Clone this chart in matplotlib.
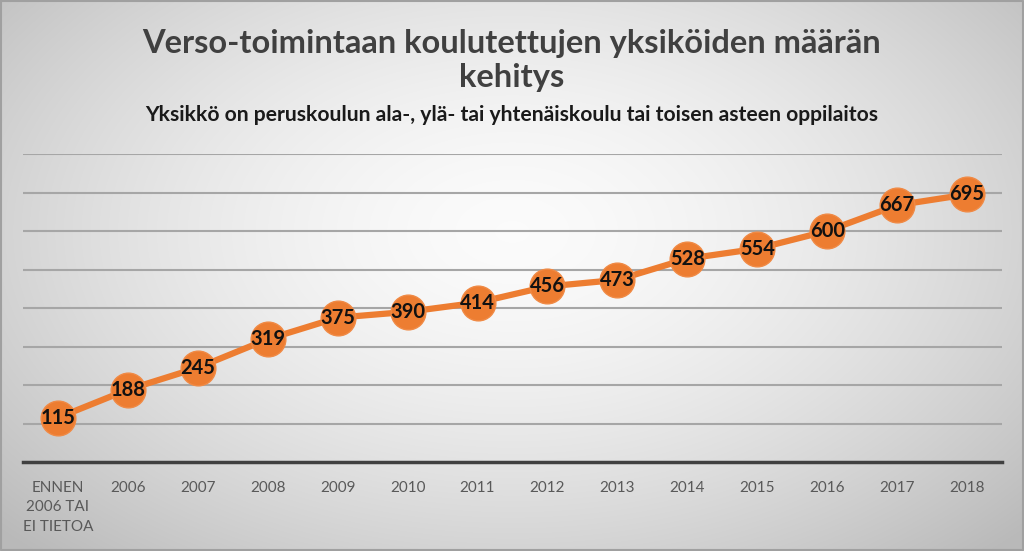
import numpy as np
import matplotlib
matplotlib.use("Agg")
import matplotlib.pyplot as plt

categories = ["ENNEN\n2006 TAI\nEI TIETOA", "2006", "2007", "2008", "2009", "2010", "2011",
              "2012", "2013", "2014", "2015", "2016", "2017", "2018"]
values = [115, 188, 245, 319, 375, 390, 414, 456, 473, 528, 554, 600, 667, 695]

title_lines = ["Verso-toimintaan koulutettujen yksiköiden määrän", "kehitys"]
subtitle = "Yksikkö on peruskoulun ala-, ylä- tai yhtenäiskoulu tai toisen asteen oppilaitos"

plt.rcParams['font.family'] = ['Lato', 'DejaVu Sans']

W, H = 1024, 551
fig = plt.figure(figsize=(W/100, H/100), dpi=100)

# background radial gradient
bg = fig.add_axes([0, 0, 1, 1])
yy, xx = np.mgrid[0:H, 0:W]
cx, cy = W/2, H*0.42
r = np.sqrt(((xx-cx)/(W*0.62))**2 + ((yy-cy)/(H*0.72))**2)
r = np.clip(r, 0, 1.1)
val = 0.985 - 0.22*r**1.6
img = np.dstack([val, val, val])
bg.imshow(img, extent=[0, W, H, 0], aspect='auto', interpolation='bilinear')
bg.plot([1, W-1, W-1, 1, 1], [1, 1, H-1, H-1, 1], color='#a0a0a0', lw=1.5)
bg.set_xlim(0, W); bg.set_ylim(H, 0)
bg.axis('off')

# plot axes
left, right = 23/W, 1002/W
y0 = 462; y800 = 154
bottom = 1 - y0/H
height = (y0 - y800)/H
ax = fig.add_axes([left, bottom, right-left, height])
ax.patch.set_alpha(0)
x = np.arange(len(categories))
ax.set_xlim(-0.5, len(categories)-0.5)
ax.set_ylim(0, 800)
ax.set_yticks(np.arange(100, 801, 100))
ax.yaxis.grid(True, color='#a6a6a6', lw=1.5)
ax.set_axisbelow(True)
for s in ['top', 'right', 'left']:
    ax.spines[s].set_visible(False)
ax.spines['bottom'].set_color('#404040')
ax.spines['bottom'].set_linewidth(2.5)
ax.tick_params(axis='y', left=False, labelleft=False)
ax.tick_params(axis='x', bottom=False, pad=10)
ax.set_xticks(x)
ax.set_xticklabels(categories, fontsize=11, color='#595959', linespacing=1.5, va='top')

ax.plot(x, values, color='#ED7D31', lw=4.5, marker='o', markersize=25,
        markerfacecolor='#ED7D31', markeredgecolor='#F08A45', markeredgewidth=1, zorder=3,
        solid_capstyle='round')
for xi, v in zip(x, values):
    ax.text(xi, v, str(v), ha='center', va='center', fontsize=14.5, fontweight='bold',
            color='#111111', zorder=4)

fig.text(0.5, 1-44/H, title_lines[0], ha='center', va='center',
         fontsize=23.5, fontweight='bold', color='#404040')
fig.text(0.5, 1-77/H, title_lines[1], ha='center', va='center',
         fontsize=23.5, fontweight='bold', color='#404040')
fig.text(0.5, 1-115/H, subtitle, ha='center', va='center',
         fontsize=15.2, fontweight='bold', color='#1a1a1a')

fig.savefig("out.png", dpi=100)
